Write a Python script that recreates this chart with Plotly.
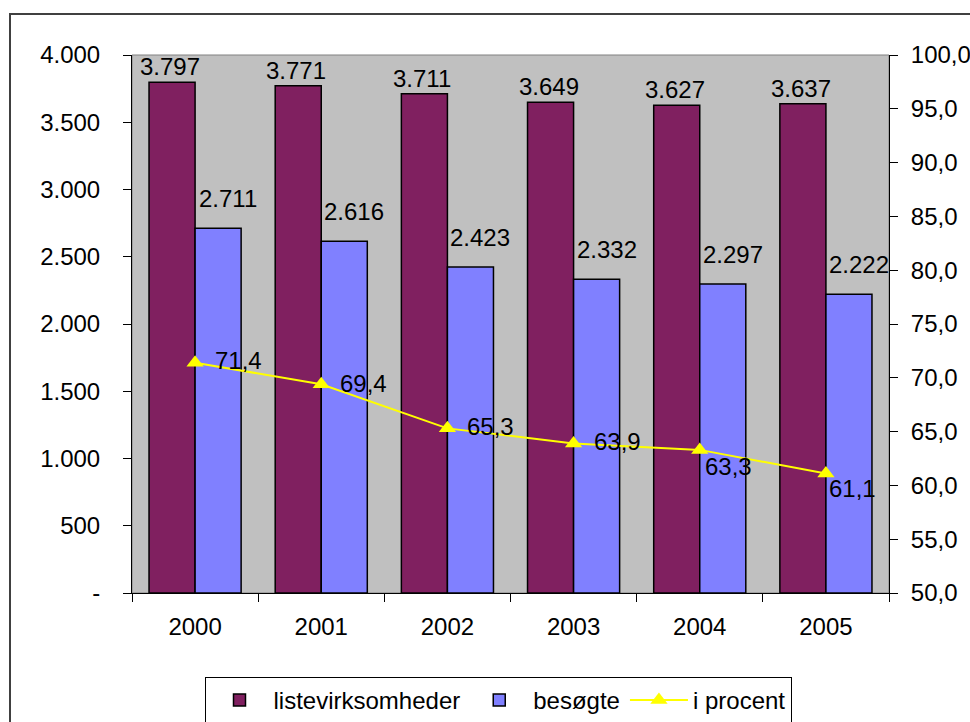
import plotly.graph_objects as go

years = ["2000", "2001", "2002", "2003", "2004", "2005"]
liste = [3797, 3771, 3711, 3649, 3627, 3637]
besogte = [2711, 2616, 2423, 2332, 2297, 2222]
procent = [71.4, 69.4, 65.3, 63.9, 63.3, 61.1]

left_tickvals = [0, 500, 1000, 1500, 2000, 2500, 3000, 3500, 4000]
left_ticktext = ["-", "500", "1.000", "1.500", "2.000", "2.500", "3.000", "3.500", "4.000"]
right_tickvals = [50, 55, 60, 65, 70, 75, 80, 85, 90, 95, 100]

# label offsets (pixels) for the percent labels
pct_xshift = [18, 17, 18, 18, 3, 1]
pct_yshift = [2, 1, 2, 2, -17, -15]

MAROON = "#802060"
BLUE = "#8080FF"
YELLOW = "#FFFF00"
FONT = "Liberation Sans, Arial, sans-serif"
FS = 24

def dk(v):
    return f"{v:,}".replace(",", ".")

fig = go.Figure()
fig.add_trace(go.Bar(x=years, y=liste, name="listevirksomheder",
                     marker=dict(color=MAROON, line=dict(color="black", width=1.5)),
                     hoverinfo="skip"))
fig.add_trace(go.Bar(x=years, y=besogte, name="besøgte",
                     marker=dict(color=BLUE, line=dict(color="black", width=1.5)),
                     hoverinfo="skip"))
fig.add_trace(go.Scatter(x=years, y=procent, name="i procent", yaxis="y2",
                         mode="lines+markers",
                         line=dict(color=YELLOW, width=2),
                         marker=dict(symbol="triangle-up", size=15, color=YELLOW),
                         hoverinfo="skip"))

annotations = []
for i, v in enumerate(liste):
    annotations.append(dict(x=i, y=v, xref="x", yref="y", text=dk(v), showarrow=False,
                            xanchor="center", yanchor="bottom", xshift=-25, yshift=0,
                            font=dict(family=FONT, size=FS, color="black")))
for i, v in enumerate(besogte):
    annotations.append(dict(x=i, y=v, xref="x", yref="y", text=dk(v), showarrow=False,
                            xanchor="center", yanchor="bottom", xshift=33, yshift=14,
                            font=dict(family=FONT, size=FS, color="black")))
for i, (v, xs, ys) in enumerate(zip(procent, pct_xshift, pct_yshift)):
    annotations.append(dict(x=i, y=v, xref="x", yref="y2", text=f"{v:.1f}".replace(".", ","),
                            showarrow=False, xanchor="left", yanchor="middle",
                            xshift=xs, yshift=ys,
                            font=dict(family=FONT, size=FS, color="black")))

W, H = 970, 722
L, R, T, B = 132, 81, 55, 129
pw, ph = W - L - R, H - T - B

shapes = [
    # plot area border (grey)
    dict(type="rect", xref="paper", yref="paper", x0=0, x1=1, y0=0, y1=1,
         line=dict(color="#808080", width=1), layer="below"),
    # outer chart frame
    dict(type="rect", xref="paper", yref="paper",
         x0=(10 - L) / pw, x1=1.3, y0=-0.4, y1=1 + (T - 14) / ph,
         line=dict(color="#404040", width=2)),
]

fig.update_layout(
    width=W, height=H,
    margin=dict(l=L, r=R, t=T, b=B, autoexpand=False),
    paper_bgcolor="white",
    plot_bgcolor="#C0C0C0",
    barmode="group", bargap=0.27, bargroupgap=0,
    separators=",.",
    font=dict(family=FONT, size=FS, color="black"),
    showlegend=True,
    legend=dict(orientation="h", x=(498 - L) / pw, xanchor="center",
                y=(593 - 677) / ph, yanchor="top", itemwidth=58,
                bordercolor="black", borderwidth=1, bgcolor="white",
                font=dict(family=FONT, size=FS), traceorder="normal"),
    xaxis=dict(type="category", tickson="boundaries", ticks="outside", ticklen=8,
               tickcolor="black", showline=True, linecolor="black", linewidth=1,
               showgrid=False, ticklabelstandoff=12, range=[-0.5, 5.5], automargin=False),
    xaxis2=dict(overlaying="x", anchor="y", range=[-0.5, 5.5], tickmode="array",
                tickvals=[-0.5, 0.5, 1.5, 2.5, 3.5, 4.5, 5.5], ticks="inside", ticklen=8,
                tickcolor="black", showticklabels=False, showgrid=False, zeroline=False,
                showline=False, side="bottom", automargin=False),
    yaxis=dict(range=[0, 4000], tickmode="array", tickvals=left_tickvals, ticktext=left_ticktext,
               ticks="outside", ticklen=8, tickcolor="black", showline=True, linecolor="black",
               linewidth=1, showgrid=False, zeroline=False, ticklabelstandoff=18, automargin=False),
    yaxis2=dict(range=[50, 100], overlaying="y", side="right", tickmode="array",
                tickvals=right_tickvals, tickformat=".1f", ticks="outside", ticklen=8,
                tickcolor="black", showline=True, linecolor="black", linewidth=1,
                showgrid=False, zeroline=False, ticklabelstandoff=8, automargin=False),
    yaxis3=dict(range=[0, 4000], overlaying="y", side="left", anchor="x", tickmode="array",
                tickvals=left_tickvals, ticks="inside", ticklen=8, tickcolor="black",
                showticklabels=False, showgrid=False, zeroline=False, showline=False,
                automargin=False),
    yaxis4=dict(range=[50, 100], overlaying="y", side="right", anchor="x", tickmode="array",
                tickvals=right_tickvals, ticks="inside", ticklen=8, tickcolor="black",
                showticklabels=False, showgrid=False, zeroline=False, showline=False,
                automargin=False),
    annotations=annotations,
    shapes=shapes,
)

fig.write_html("out.html", config={"displayModeBar": False},
               post_script="document.body.style.margin='0';document.body.style.overflow='hidden';")
